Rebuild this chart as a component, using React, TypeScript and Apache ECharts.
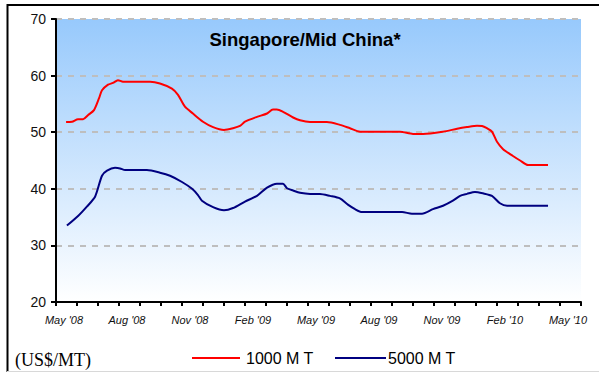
import React, { useEffect, useRef } from "react";
import * as echarts from "echarts";

// Months counted from May 2008 (0 = May '08, 25 = Jun '10)
const monthTickLabels = ["May '08", "Aug '08", "Nov '08", "Feb '09", "May '09", "Aug '09", "Nov '09", "Feb '10", "May '10"];

const months1000 = [0.48, 0.76, 1.05, 1.29, 1.52, 1.81, 2.05, 2.19, 2.48, 2.71, 2.95, 3.19, 3.67, 4.48, 4.95, 5.52, 5.81, 6.14, 6.52, 7.0, 7.48, 8.0, 8.43, 8.76, 9.0, 9.57, 10.05, 10.33, 10.52, 10.81, 11.29, 11.62, 12.1, 12.9, 13.52, 14.0, 14.48, 15.43, 16.38, 17.0, 17.48, 18.43, 19.1, 19.57, 20.05, 20.29, 20.52, 20.76, 21.0, 21.29, 21.76, 22.1, 22.48, 23.43];
const price1000 = [51.8, 51.85, 52.3, 52.3, 53.0, 53.9, 56.0, 57.4, 58.4, 58.7, 59.2, 58.9, 58.9, 58.9, 58.6, 57.7, 56.6, 54.5, 53.3, 51.85, 50.9, 50.4, 50.7, 51.1, 51.85, 52.7, 53.3, 54.0, 54.0, 53.6, 52.6, 52.1, 51.8, 51.8, 51.3, 50.7, 50.1, 50.1, 50.1, 49.7, 49.7, 50.1, 50.6, 50.9, 51.15, 51.1, 50.7, 50.1, 48.3, 47.0, 45.8, 45.0, 44.2, 44.2];

const months5000 = [0.52, 1.05, 1.48, 1.86, 2.19, 2.43, 2.81, 3.05, 3.29, 4.33, 4.95, 5.43, 6.0, 6.48, 6.76, 6.95, 7.48, 8.0, 8.43, 9.0, 9.57, 10.05, 10.52, 10.81, 11.0, 11.29, 11.62, 12.1, 12.57, 13.05, 13.52, 13.9, 14.24, 14.57, 15.43, 16.48, 16.95, 17.43, 17.95, 18.43, 18.9, 19.24, 19.57, 19.95, 20.33, 20.76, 21.14, 21.48, 23.43];
const price5000 = [33.5, 35.2, 36.9, 38.6, 42.3, 43.2, 43.7, 43.6, 43.3, 43.3, 42.85, 42.3, 41.2, 40.0, 38.9, 37.9, 36.75, 36.2, 36.6, 37.75, 38.75, 40.2, 40.9, 40.9, 40.1, 39.7, 39.3, 39.1, 39.1, 38.75, 38.3, 37.2, 36.4, 35.9, 35.9, 35.9, 35.6, 35.6, 36.4, 37.0, 37.9, 38.75, 39.1, 39.45, 39.2, 38.75, 37.45, 37.0, 37.0];

const seriesNames = ["1000 M T", "5000 M T"];
const unitLabel = "(US$/MT)";
const chartTitle = "Singapore/Mid China*";

const pairs = (xs: number[], ys: number[]) => xs.map((x, i) => [x, ys[i]]);

export default function App() {
  const ref = useRef<HTMLDivElement>(null);

  useEffect(() => {
    if (!ref.current) return;
    const chart = echarts.init(ref.current, null, { renderer: "svg" });
    chart.setOption({
      animation: false,
      backgroundColor: "#ffffff",
      grid: {
        left: 56,
        top: 19,
        width: 525,
        height: 283,
        show: true,
        borderWidth: 0,
        backgroundColor: new echarts.graphic.LinearGradient(0, 0, 0, 1, [
          { offset: 0, color: "#97C9FC" },
          { offset: 1, color: "#FFFFFF" },
        ]),
      },
      xAxis: {
        type: "value",
        min: 0,
        max: 25,
        interval: 1,
        axisLine: { lineStyle: { color: "#000", width: 2 } },
        axisTick: { show: true, length: 4, lineStyle: { color: "#000", width: 2 } },
        splitLine: { show: false },
        axisLabel: {
          margin: 12,
          fontFamily: "Arial, Liberation Sans, sans-serif",
          fontStyle: "italic",
          fontSize: 11,
          color: "#111",
          padding: [0, 0, 0, 16],
          formatter: (v: number) => (v % 3 === 0 && v / 3 < monthTickLabels.length ? monthTickLabels[v / 3] : ""),
        },
      },
      yAxis: {
        type: "value",
        min: 20,
        max: 70,
        interval: 10,
        axisLine: { show: true, lineStyle: { color: "#000", width: 2 } },
        axisTick: { show: true, length: 5, lineStyle: { color: "#000", width: 2 } },
        axisLabel: {
          margin: 10,
          fontFamily: "Arial, Liberation Sans, sans-serif",
          fontSize: 14,
          color: "#111",
        },
        splitLine: { show: true, lineStyle: { color: "#BEBEBE", width: 2, type: [6, 6] } },
      },
      series: [
        {
          name: seriesNames[0],
          type: "line",
          data: pairs(months1000, price1000),
          symbol: "none",
          smooth: 0.25,
          lineStyle: { color: "#FF0000", width: 2 },
          z: 3,
        },
        {
          name: seriesNames[1],
          type: "line",
          data: pairs(months5000, price5000),
          symbol: "none",
          smooth: 0.25,
          lineStyle: { color: "#000080", width: 2 },
          z: 3,
        },
      ],
      graphic: [
        // outer frame
        { type: "line", shape: { x1: 7, y1: 5, x2: 599, y2: 5 }, style: { stroke: "#000", lineWidth: 2 } },
        { type: "line", shape: { x1: 7.5, y1: 4, x2: 7.5, y2: 372 }, style: { stroke: "#000", lineWidth: 2 } },
        { type: "line", shape: { x1: 7, y1: 371.5, x2: 599, y2: 371.5 }, style: { stroke: "#D8D8D8", lineWidth: 1 } },
        {
          type: "text",
          x: 305,
          y: 39,
          style: {
            text: chartTitle,
            font: "bold 18.5px Arial, Liberation Sans, sans-serif",
            fill: "#000",
            textAlign: "center",
            textVerticalAlign: "middle",
          },
        },
        {
          type: "text",
          x: 15,
          y: 360,
          style: {
            text: unitLabel,
            font: "18px 'Times New Roman', 'Liberation Serif', serif",
            fill: "#000",
            textVerticalAlign: "middle",
          },
        },
        { type: "line", shape: { x1: 192, y1: 358, x2: 240, y2: 358 }, style: { stroke: "#FF0000", lineWidth: 2 } },
        {
          type: "text",
          x: 246,
          y: 358,
          style: { text: seriesNames[0], font: "16px Arial, Liberation Sans, sans-serif", fill: "#000", textVerticalAlign: "middle" },
        },
        { type: "line", shape: { x1: 335, y1: 358, x2: 386, y2: 358 }, style: { stroke: "#000080", lineWidth: 2 } },
        {
          type: "text",
          x: 388,
          y: 358,
          style: { text: seriesNames[1], font: "16px Arial, Liberation Sans, sans-serif", fill: "#000", textVerticalAlign: "middle" },
        },
      ],
    });
    return () => chart.dispose();
  }, []);

  return <div ref={ref} style={{ position: "fixed", left: 0, top: 0, width: 599, height: 373 }} />;
}
